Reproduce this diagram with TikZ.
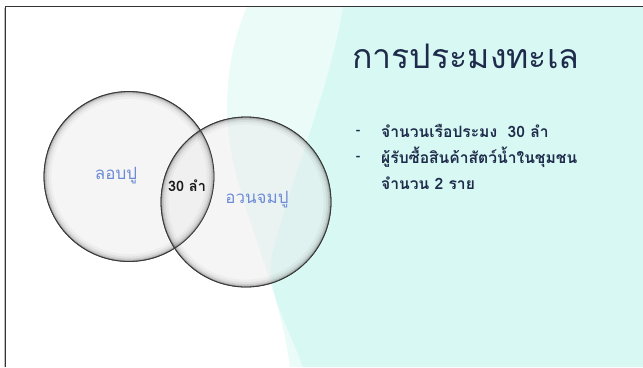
\documentclass[tikz,border=0pt]{standalone}
\usepackage{fontspec}
\newfontfamily\thaifont[Script=Thai]{Loma}
\usetikzlibrary{calc}
\definecolor{bglight}{HTML}{EAFBF8}
\definecolor{bgdark}{HTML}{D7F8F3}
\definecolor{titlecol}{HTML}{1E2B4A}
\definecolor{labelblue}{HTML}{6E8CD6}
\definecolor{circfill}{HTML}{EBEBEB}
\definecolor{rimcol}{HTML}{3A3A3A}
\tikzset{
  venn/.style={circle, minimum size=170bp, inner sep=0pt, draw=rimcol, line width=0.8bp, fill=circfill, fill opacity=0.45, draw opacity=1},
  vennlabel/.style={font=\thaifont\fontsize{17}{20}\selectfont, text=labelblue, inner sep=0pt},
  countlabel/.style={font=\thaifont\bfseries\fontsize{14.5}{18}\selectfont, text=black!90, inner sep=0pt},
  titletext/.style={font=\thaifont\fontsize{34}{40}\selectfont, text=titlecol, anchor=west, inner sep=0pt},
  bullettext/.style={font=\thaifont\bfseries\fontsize{15.7}{18}\selectfont, text=titlecol, anchor=west, inner sep=0pt},
  dashmark/.style={font=\thaifont\bfseries\fontsize{13.5}{16}\selectfont, text=titlecol, anchor=center, inner sep=0pt}
}
\begin{document}
\begin{tikzpicture}[x=1bp,y=-1bp]
\useasboundingbox (0,0) rectangle (643,367);
\fill[white] (0,0) rectangle (643,367);
% background waves
\fill[bglight] (247,7) .. controls (228,50) and (220,110) .. (235,170)
  .. controls (250,230) and (282,300) .. (290,367) -- (643,367) -- (643,7) -- cycle;
\fill[bgdark] (343,7) .. controls (330,90) and (290,180) .. (272,255)
  .. controls (265,290) and (290,330) .. (303,367) -- (643,367) -- (643,7) -- cycle;
% frame
\draw[black!80, line width=1.2bp] (5.5,367) -- (5.5,6.5) -- (643,6.5);
\draw[black!25, line width=1bp] (4,367) -- (4,8);
% circles
\node[venn] (c1) at (129,176.5) {};
\node[venn] (c2) at (246,202) {};
% rim shading
\foreach \c in {c1,c2}{
  \foreach \w/\o in {1/0.16,2.5/0.09,4.5/0.05,7/0.03}{
    \draw[black, opacity=\o, line width=\w bp] (\c.center) circle[radius=85bp-\w bp/2-0.4bp];
  }
}
\draw[rimcol, line width=0.8bp] (c1) circle[radius=85bp];
\draw[rimcol, line width=0.8bp] (c2) circle[radius=85bp];
% labels
\node[vennlabel] (l1) at (116,176) {ลอบปู};
\node[countlabel] (l0) at (187,186) {30 ลำ};
\node[vennlabel] (l2) at (257,200) {อวนจมปู};
% title
\node[titletext] (title) at (352,56) {การประมงทะเล};
% bullets
\node[dashmark] (d1) at (358,132) {-};
\node[dashmark] (d2) at (358,158) {-};
\node[bullettext] (b1) at (381,131) {จำนวนเรือประมง~ 30 ลำ};
\node[bullettext] (b2) at (381,157) {ผู้รับซื้อสินค้าสัตว์น้ำในชุมชน};
\node[bullettext] (b3) at (381,183) {จำนวน 2 ราย};
\end{tikzpicture}
\end{document}
